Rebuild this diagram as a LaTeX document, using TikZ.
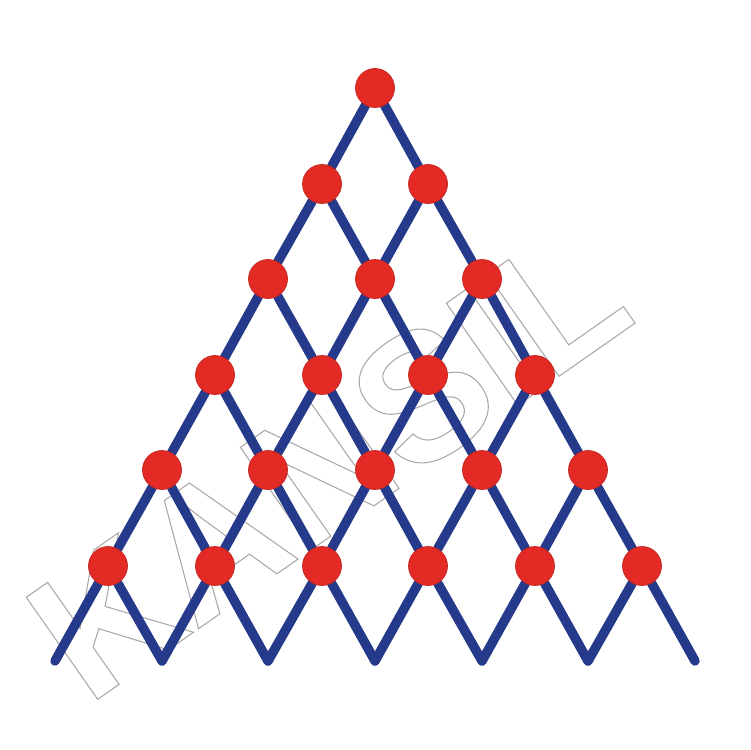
\documentclass[tikz,border=0pt]{standalone}
\usepackage{fontspec}
\usepackage{xcolor}
\usepackage{tikz}
\usetikzlibrary{backgrounds}
\newfontfamily\markfont{Liberation Sans Bold}
\definecolor{rodblue}{HTML}{263A8C}
\definecolor{ballred}{HTML}{E42A25}
\definecolor{markgray}{HTML}{A8A8A8}
\tikzset{
    ball/.style={draw=ballred!85!black, circle, fill=ballred, line width=0.4pt, inner sep=0pt, minimum size=7.8mm},
    rod/.style={draw=rodblue, line width=5.4pt, line cap=round, line join=round}}

\begin{document}
\begin{tikzpicture}[x=0.2mm,y=-0.2mm]
\useasboundingbox (0,0) rectangle (750,750);

% balls, row by row
\node[ball] (a1) at (375,88) {};

\node[ball] (b1) at (322,184) {};
\node[ball] (b2) at (428,184) {};

\node[ball] (c1) at (268,279) {};
\node[ball] (c2) at (375,279) {};
\node[ball] (c3) at (482,279) {};

\node[ball] (d1) at (215,375) {};
\node[ball] (d2) at (322,375) {};
\node[ball] (d3) at (428,375) {};
\node[ball] (d4) at (535,375) {};

\node[ball] (e1) at (162,470) {};
\node[ball] (e2) at (268,470) {};
\node[ball] (e3) at (375,470) {};
\node[ball] (e4) at (482,470) {};
\node[ball] (e5) at (588,470) {};

\node[ball] (f1) at (108,566) {};
\node[ball] (f2) at (215,566) {};
\node[ball] (f3) at (322,566) {};
\node[ball] (f4) at (428,566) {};
\node[ball] (f5) at (535,566) {};
\node[ball] (f6) at (642,566) {};

% free rod ends
\coordinate (g1) at (55,661) ;
\coordinate (g2) at (162,661) ;
\coordinate (g3) at (268,661) ;
\coordinate (g4) at (375,661) ;
\coordinate (g5) at (482,661) ;
\coordinate (g6) at (588,661) ;
\coordinate (g7) at (695,661) ;

\begin{scope}[on background layer]
%watermark
\node[rotate=35, text=markgray, inner sep=0pt] (mark) at (328,462)
  {\markfont\fontsize{103pt}{104pt}\selectfont\special{pdf:literal 1 Tr 0.6 w}KANSIL\special{pdf:literal 0 Tr}};

% rods going down-left
\draw [rod](a1)--(b1)--(c1)--(d1)--(e1)--(f1)--(g1);
\draw [rod](b2)--(c2)--(d2)--(e2)--(f2)--(g2);
\draw [rod](c3)--(d3)--(e3)--(f3)--(g3);
\draw [rod](d4)--(e4)--(f4)--(g4);
\draw [rod](e5)--(f5)--(g5);
\draw [rod](f6)--(g6);

% rods going down-right
\draw [rod](a1)--(b2)--(c3)--(d4)--(e5)--(f6)--(g7);
\draw [rod](b1)--(c2)--(d3)--(e4)--(f5)--(g6);
\draw [rod](c1)--(d2)--(e3)--(f4)--(g5);
\draw [rod](d1)--(e2)--(f3)--(g4);
\draw [rod](e1)--(f2)--(g3);
\draw [rod](f1)--(g2);
\end{scope}
\end{tikzpicture}
\end{document}
